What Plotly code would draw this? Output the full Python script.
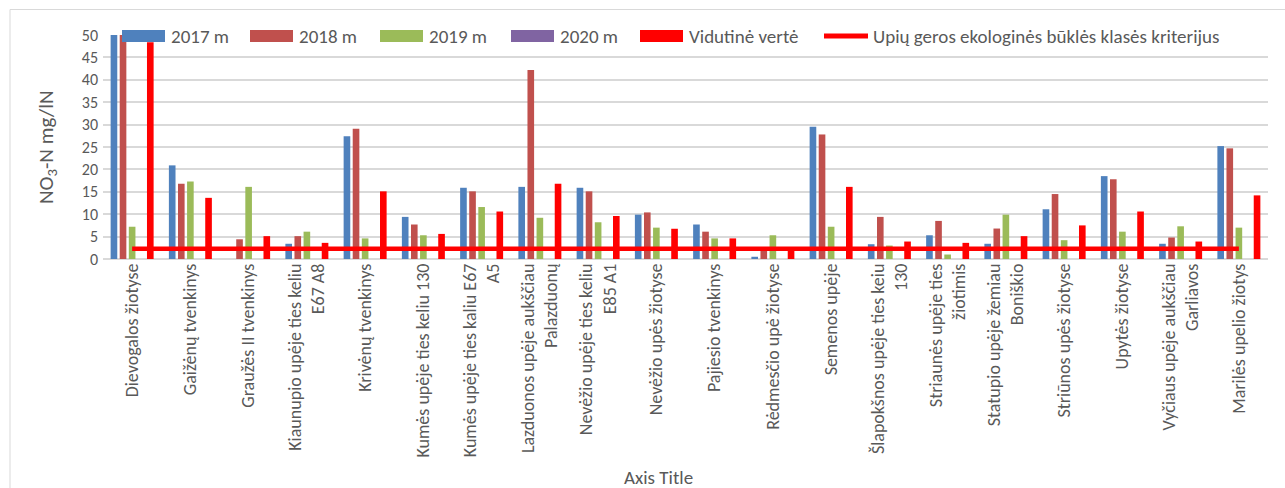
import plotly.graph_objects as go

categories = [
    "Dievogalos žiotyse",
    "Gaižėnų tvenkinys",
    "Graužės II tvenkinys",
    "Kiaunupio upėje ties keliu<br>E67 A8",
    "Krivėnų tvenkinys",
    "Kumės upėje ties keliu 130",
    "Kumės upėje ties kaliu E67<br>A5",
    "Lazduonos upėje aukščiau<br>Palazduonų",
    "Nevėžio upėje ties keliu<br>E85 A1",
    "Nevėžio upės žiotyse",
    "Pajiesio tvenkinys",
    "Rėdmesčio upė žiotyse",
    "Semenos upėje",
    "Šlapokšnos upėje ties keiu<br>130",
    "Striaunės upėje ties<br>žiotimis",
    "Statupio upėje žemiau<br>Boniškio",
    "Striūnos upės žiotyse",
    "Upytės žiotyse",
    "Vyčiaus upėje aukščiau<br>Garliavos",
    "Marilės upelio žiotys",
]

y2017 = [94, 20.9, None, 3.4, 27.4, 9.4, 15.9, 16.1, 15.9, 9.9, 7.7, 0.5, 29.5, 3.3, 5.3, 3.4, 11.1, 18.5, 3.4, 25.2]
y2018 = [92, 16.8, 4.4, 5.1, 29.1, 7.7, 15.1, 42.2, 15.1, 10.4, 6.1, 1.8, 27.8, 9.4, 8.5, 6.8, 14.5, 17.8, 4.8, 24.7]
y2019 = [7.2, 17.3, 16.1, 6.1, 4.6, 5.3, 11.6, 9.2, 8.2, 7.0, 4.6, 5.3, 7.2, 3.0, 1.0, 9.9, 4.2, 6.1, 7.3, 7.0]
y2020 = [None] * 20
vidutine = [48.4, 13.65, 5.1, 3.6, 15.1, 5.6, 10.6, 16.8, 9.6, 6.75, 4.6, 1.9, 16.1, 3.9, 3.6, 5.1, 7.5, 10.6, 3.9, 14.2]
kriterijus = [2.3] * 20

series_names = ["2017 m", "2018 m", "2019 m", "2020 m", "Vidutinė vertė"]
series_vals = [y2017, y2018, y2019, y2020, vidutine]
series_cols = ["#4F81BD", "#C0504D", "#9BBB59", "#8064A2", "#FF0000"]
line_name = "Upių geros ekologinės būklės klasės kriterijus"
line_col = "#FF0000"

FONT = "Calibri, Carlito, Lato, sans-serif"
GRAY = "#595959"

fig = go.Figure()
for n, v, c in zip(series_names, series_vals, series_cols):
    fig.add_trace(go.Bar(x=categories, y=v, name=n, showlegend=False,
                         marker=dict(color=c, line=dict(width=0))))

fig.add_trace(go.Scatter(
    x=categories, y=kriterijus, mode="lines", name=line_name, showlegend=False,
    line=dict(color=line_col, width=4.5),
))

L, R, T, B = 103, 17, 35, 229
W, H = 1285, 488
pw = W - L - R
ph = H - T - B

def px_x(px):
    return (px - L) / pw

def px_y(py):
    return (H - B - py) / ph

# custom legend (Excel style wide swatches)
swatch_x = [122, 250, 380, 511, 640]
shapes = [dict(
    type="rect", xref="paper", yref="paper",
    x0=px_x(10), x1=px_x(1300), y0=px_y(500), y1=px_y(9.5),
    line=dict(color="#D9D9D9", width=1), fillcolor="rgba(0,0,0,0)", layer="below",
)]
annotations = []
LEG_FONT = dict(size=19, color=GRAY, family=FONT)
for sx, n, c in zip(swatch_x, series_names, series_cols):
    shapes.append(dict(type="rect", xref="paper", yref="paper",
                       x0=px_x(sx), x1=px_x(sx + 43), y0=px_y(42), y1=px_y(30),
                       fillcolor=c, line=dict(width=0), layer="above"))
    annotations.append(dict(text=n, xref="paper", yref="paper", x=px_x(sx + 47), y=px_y(36),
                            xanchor="left", yanchor="middle", showarrow=False, font=LEG_FONT))
shapes.append(dict(type="line", xref="paper", yref="paper",
                   x0=px_x(824), x1=px_x(868), y0=px_y(36), y1=px_y(36),
                   line=dict(color=line_col, width=5), layer="above"))
annotations.append(dict(text=line_name, xref="paper", yref="paper", x=px_x(871), y=px_y(36),
                        xanchor="left", yanchor="middle", showarrow=False, font=LEG_FONT))

annotations += [
    dict(text="NO<sub>3</sub>-N mg/lN", textangle=-90, xref="paper", yref="paper",
         x=px_x(47), y=px_y(147), xanchor="center", yanchor="middle",
         showarrow=False, font=dict(size=21, color=GRAY, family=FONT)),
    dict(text="Axis Title", xref="paper", yref="paper",
         x=px_x(658), y=px_y(477), xanchor="center", yanchor="middle",
         showarrow=False, font=dict(size=19, color=GRAY, family=FONT)),
]

fig.update_layout(
    width=W, height=H,
    margin=dict(l=L, r=R, t=T, b=B, pad=0),
    paper_bgcolor="white", plot_bgcolor="white",
    barmode="group", bargap=0.22, bargroupgap=0.27,
    font=dict(family=FONT, color=GRAY, size=13),
    showlegend=False,
    xaxis=dict(
        tickangle=-90, tickfont=dict(size=18, color=GRAY, family=FONT),
        showgrid=False, showline=False, ticks="", automargin=False,
    ),
    yaxis=dict(
        range=[0, 50], tickvals=list(range(0, 51, 5)),
        tickfont=dict(size=16, color=GRAY, family=FONT),
        showgrid=True, gridcolor="#D9D9D9", gridwidth=1.5,
        zeroline=True, zerolinecolor="#D9D9D9", zerolinewidth=1.5,
        showline=False, ticks="", automargin=False, ticklabelstandoff=4,
    ),
    shapes=shapes,
    annotations=annotations,
)

fig.write_html("out.html")
